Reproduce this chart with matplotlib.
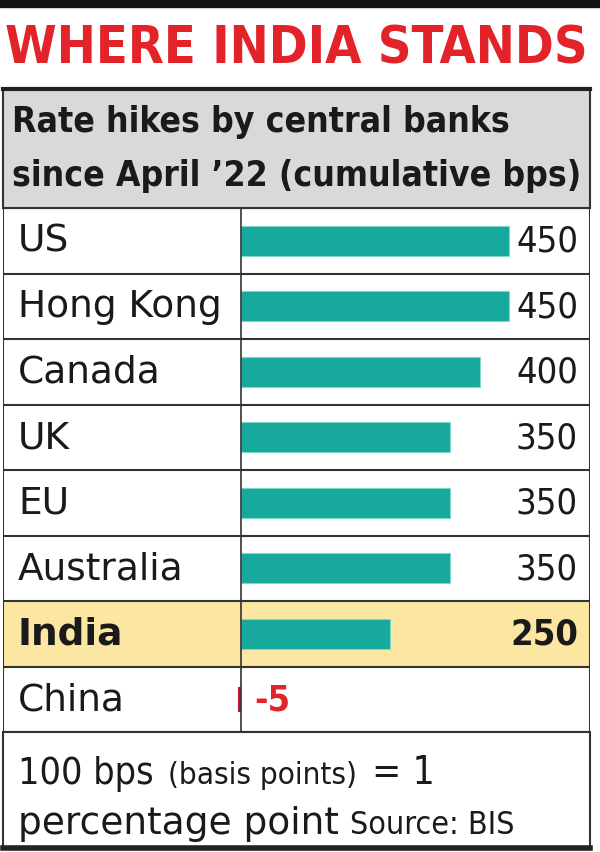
import matplotlib.pyplot as plt
from matplotlib.patches import Rectangle

countries = ['US', 'Hong Kong', 'Canada', 'UK', 'EU', 'Australia', 'India', 'China']
hikes = [450, 450, 400, 350, 350, 350, 250, -5]
highlight = 'India'

title = 'WHERE INDIA STANDS'
subtitle = ['Rate hikes by central banks', 'since April \u201922 (cumulative bps)']
note = ['100 bps', '(basis points)', '= 1', 'percentage point', 'Source: BIS']

W, H = 600, 853
TEAL = '#17a89e'
RED = '#e2232a'
YELLOW = '#fbe7a1'
GREY = '#d9d9da'
INK = '#1a1a1a'

plt.rcParams['font.family'] = ['DejaVu Sans']


def fx(x):
    return x / W


def fy(y):
    return 1 - y / H


fig = plt.figure(figsize=(6, 8.53), dpi=100)

# black strip + title
fig.patches.append(Rectangle((0, fy(8)), 1, 8 / H, transform=fig.transFigure,
                             color='#111111', zorder=0))
fig.text(fx(296), fy(50), title, color=RED, fontsize=37.5, fontweight='bold',
         fontstretch='condensed', ha='center', va='center')

# grey header
fig.patches.append(Rectangle((fx(3), fy(209)), fx(587), (209 - 90) / H,
                             transform=fig.transFigure, facecolor=GREY,
                             edgecolor='#333333', lw=1.5, zorder=0))
fig.add_artist(plt.Line2D([fx(3), fx(590)], [fy(90), fy(90)], color='#222222', lw=3))
for k, line in enumerate(subtitle):
    fig.text(fx(12), fy(122 + 54 * k), line, fontsize=25.5, fontweight='bold',
             fontstretch='condensed', color=INK, va='center')

# table
x_left, x_right = -399, 585
ax = fig.add_axes([fx(3), fy(733), fx(587), (733 - 209) / H])
n = len(countries)
ax.set_xlim(x_left, x_right)
ax.set_ylim(n - 0.5, -0.5)
ax.axis('off')

for i, (c, v) in enumerate(zip(countries, hikes)):
    bold = c == highlight
    if bold:
        ax.axhspan(i - 0.5, i + 0.5, color=YELLOW, zorder=0)
    if v >= 0:
        ax.barh(i, v, height=0.46, color=TEAL, edgecolor='#7fd6c9', lw=0.8, zorder=2)
        ax.text(x_right - 20, i, str(v), fontsize=26, va='center', ha='right',
                fontstretch='condensed', fontweight='bold' if bold else 'normal',
                color=INK)
    else:
        ax.barh(i, v, height=0.38, color='#c8102e', zorder=2)
        ax.text(22, i, str(v), fontsize=26, va='center', ha='left',
                fontstretch='condensed', fontweight='bold', color=RED)
    ax.text(x_left + 25, i, c, fontsize=27, va='center',
            fontweight='bold' if bold else 'normal', color=INK)

for i in range(n + 1):
    ax.axhline(i - 0.5, color='#333333', lw=1.5, zorder=3)
ax.axvline(0, color='#333333', lw=1.2, zorder=3)
ax.axvline(x_left, color='#333333', lw=1.5, zorder=3)
ax.axvline(x_right, color='#333333', lw=1.5, zorder=3)

# footer
fig.patches.append(Rectangle((fx(3), fy(848)), fx(587), (848 - 733) / H,
                             transform=fig.transFigure, facecolor='white',
                             edgecolor='#333333', lw=1.5, zorder=0))
fig.add_artist(plt.Line2D([fx(3), fx(590)], [fy(849), fy(849)], color='#222222', lw=4))

fig.text(fx(18), fy(784), note[0], fontsize=27, fontstretch='condensed',
         va='baseline', color=INK)
fig.text(fx(168), fy(784), note[1], fontsize=22.5, fontstretch='condensed',
         va='baseline', color=INK)
fig.text(fx(372), fy(784), note[2], fontsize=28, fontstretch='condensed',
         va='baseline', color=INK)
fig.text(fx(18), fy(834), note[3], fontsize=27, va='baseline', color=INK)
fig.text(fx(350), fy(834), note[4], fontsize=23, fontstretch='condensed',
         va='baseline', color=INK)

fig.savefig('out.png', dpi=100)
